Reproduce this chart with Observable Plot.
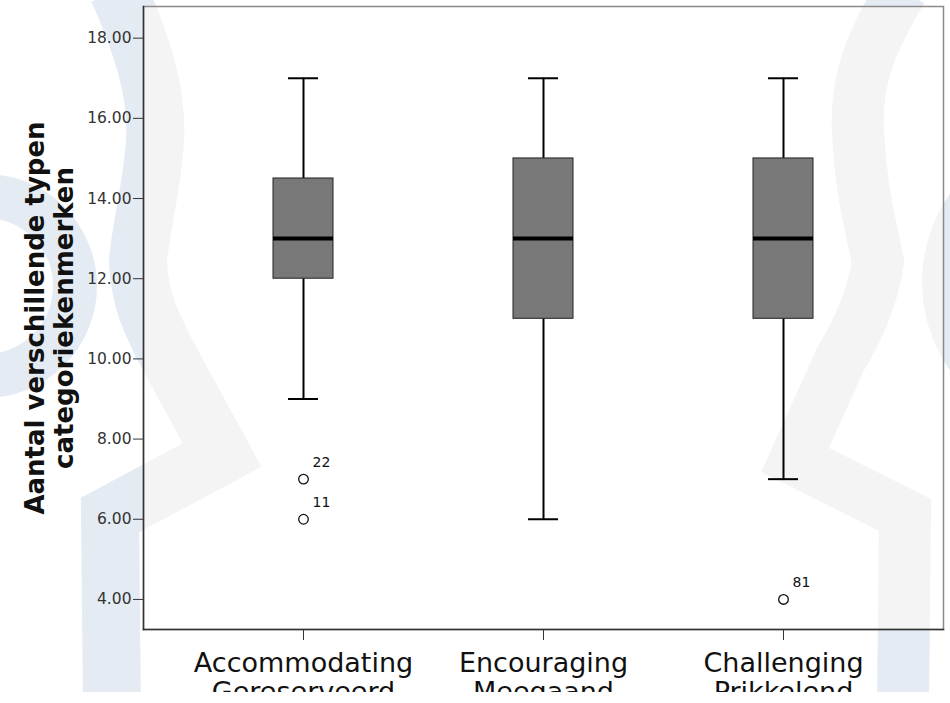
<!DOCTYPE html>
<html>
<head>
<meta charset="utf-8">
<script src="https://cdn.jsdelivr.net/npm/d3@7"></script>
<script src="https://cdn.jsdelivr.net/npm/@observablehq/plot@0.6"></script>
<style>
  html, body { margin: 0; padding: 0; background: white; }
  #wrap { position: relative; width: 950px; height: 703px; overflow: hidden; }
  #bg { position: absolute; left: 0; top: 0; z-index: 0; }
  #chart { position: absolute; left: 0; top: 0; z-index: 1; }
</style>
</head>
<body>
<div id="wrap">
  <svg id="bg" width="950" height="692" viewBox="0 0 950 692">
    <defs>
      <g id="wm" fill="none" stroke-linejoin="miter">
        <path d="M118,-10 C140,40 158,90 155,140 C152,190 140,230 138,262 C140,300 150,320 165,350 L222,455 L110,515 L112,710" stroke-width="58"/>
        <circle cx="-15" cy="286" r="90" stroke-width="44"/>
        <path d="M902,-10 C872,40 855,80 858,130 C860,190 872,230 878,262 C872,300 858,330 840,360 L795,460 L905,515 L903,710" stroke-width="52"/>
        <circle cx="1075" cy="282" r="131" stroke-width="44"/>
      </g>
      <clipPath id="plotArea"><rect x="143" y="6" width="800" height="623"/></clipPath>
    </defs>
    <use href="#wm" stroke="#e4ebf3"/>
    <rect x="143" y="6" width="800" height="623" fill="white"/>
    <g clip-path="url(#plotArea)"><use href="#wm" stroke="#f4f4f4"/></g>
  </svg>
  <div id="chart"></div>
</div>
<script>
// ---- data ----
const categories = ["Accommodating", "Encouraging", "Challenging"];
const subLabels = ["Gereserveerd", "Meegaand", "Prikkelend"];
const whiskerLow = [9, 6, 7];
const q1 = [12, 11, 11];
const median = [13, 13, 13];
const q3 = [14.5, 15, 15];
const whiskerHigh = [17, 17, 17];
const outlierCategory = ["Accommodating", "Accommodating", "Challenging"];
const outlierValue = [7, 6, 4];
const outlierCase = ["22", "11", "81"];
const yTicks = [4, 6, 8, 10, 12, 14, 16, 18];
const yTitle = "Aantal verschillende typen\ncategoriekenmerken";

const rows = categories.map((c, i) => ({
  cat: c, lo: whiskerLow[i], q1: q1[i], med: median[i], q3: q3[i], hi: whiskerHigh[i]
}));
const outliers = outlierCategory.map((c, i) => ({cat: c, v: outlierValue[i], id: outlierCase[i]}));

const chart = Plot.plot({
  width: 950,
  height: 692,
  marginTop: 6,
  marginRight: 7,
  marginBottom: 63,
  marginLeft: 143,
  style: {background: "transparent", overflow: "hidden", fontFamily: "DejaVu Sans"},
  x: {domain: categories, paddingInner: 0.75, paddingOuter: 0.54, axis: null},
  y: {domain: [3.25, 18.79], axis: null},
  marks: [
    Plot.frame({stroke: "#8a8a8a", strokeWidth: 1.5}),
    Plot.frame({anchor: "left", stroke: "#333", strokeWidth: 1.5}),
    Plot.frame({anchor: "bottom", stroke: "#333", strokeWidth: 1.5}),
    Plot.axisY({ticks: yTicks, tickFormat: d => d.toFixed(2), tickSize: 10, tickPadding: 2,
      fontSize: 15.5, stroke: "#333", fill: "#333", label: null}),
    Plot.axisX({tickFormat: d => d + "\n" + subLabels[categories.indexOf(d)], tickSize: 11,
      tickPadding: 10, fontSize: 27, lineHeight: 1.1, stroke: "#333", fill: "#111", label: null}),
    Plot.text([yTitle], {frameAnchor: "left", dx: -94, rotate: -90, fontSize: 26,
      textAnchor: "middle", lineAnchor: "middle",
      fontWeight: "bold", lineHeight: 1.08, fill: "#111"}),
    Plot.ruleX(rows, {x: "cat", y1: "lo", y2: "q1", stroke: "black", strokeWidth: 2}),
    Plot.ruleX(rows, {x: "cat", y1: "q3", y2: "hi", stroke: "black", strokeWidth: 2}),
    Plot.tickY(rows, {x: "cat", y: "lo", insetLeft: 15, insetRight: 15, stroke: "black", strokeWidth: 2}),
    Plot.tickY(rows, {x: "cat", y: "hi", insetLeft: 15, insetRight: 15, stroke: "black", strokeWidth: 2}),
    Plot.barY(rows, {x: "cat", y1: "q1", y2: "q3", fill: "#787878", stroke: "#222", strokeWidth: 1}),
    Plot.tickY(rows, {x: "cat", y: "med", stroke: "black", strokeWidth: 4}),
    Plot.dot(outliers, {x: "cat", y: "v", r: 4.8, stroke: "#111", strokeWidth: 1.3, fill: "none"}),
    Plot.text(outliers, {x: "cat", y: "v", text: "id", dx: 9, dy: -17, textAnchor: "start",
      fontSize: 14, fill: "#111"})
  ]
});
document.getElementById("chart").appendChild(chart);
</script>
</body>
</html>
